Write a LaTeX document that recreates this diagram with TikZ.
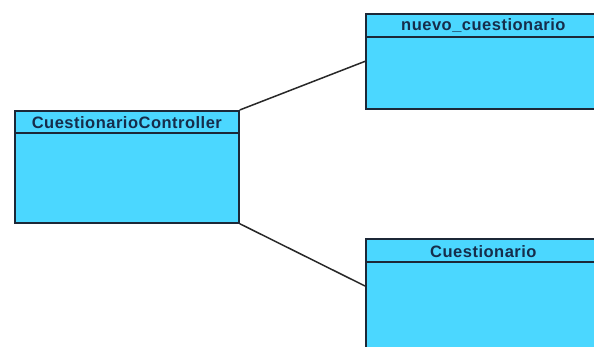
\documentclass[tikz,border=0pt]{standalone}
\usepackage{fontspec}
\setmainfont{Liberation Sans}
\newfontfamily\umlfont[LetterSpace=3]{Liberation Sans}
\usetikzlibrary{calc}
\definecolor{classfill}{RGB}{75,215,255}
\definecolor{classline}{RGB}{28,40,55}
\definecolor{classtext}{RGB}{22,45,75}
\definecolor{linkline}{RGB}{40,40,40}
\begin{document}
\begin{tikzpicture}[x=1pt,y=-1pt,
  classbox/.style={draw=classline, fill=classfill, line width=1.7pt, anchor=north west, inner sep=0pt},
  classtitle/.style={font=\umlfont\bfseries\fontsize{16.5}{18}\selectfont, text=classtext, inner sep=0pt, anchor=base},
  sepline/.style={draw=classline, line width=1.7pt},
  link/.style={draw=linkline, line width=1.5pt}]
\useasboundingbox (0,0) rectangle (594,347);
\clip (0,0) rectangle (594,347);
\fill[white] (0,0) rectangle (594,347);

% associations
\coordinate (cuestIn) at (365,286);

% class boxes
\node[classbox, minimum width=224pt, minimum height=112pt] (ctrl) at (14,110) {};
\node[classbox, minimum width=235pt, minimum height=95pt] (nuevo) at (365,13) {};
\node[classbox, minimum width=235pt, minimum height=130pt] (cuest) at (365,238) {};

\draw[link] (ctrl.north east) -- (nuevo.west);
\draw[link] (ctrl.south east) -- (cuestIn);

% name compartments
\draw[sepline] ($(ctrl.north west)+(0,23)$) -- ($(ctrl.north east)+(0,23)$);
\draw[sepline] ($(nuevo.north west)+(0,24)$) -- ($(nuevo.north east)+(0,24)$);
\draw[sepline] ($(cuest.north west)+(0,24)$) -- ($(cuest.north east)+(0,24)$);

% class names
\node[classtitle] (ctrlT) at ($(ctrl.north)+(0,18.8)$) {CuestionarioController};
\node[classtitle] (nuevoT) at ($(nuevo.north)+(0,18)$) {nuevo\_cuestionario};
\node[classtitle] (cuestT) at ($(cuest.north)+(0,19.3)$) {Cuestionario};
\end{tikzpicture}
\end{document}
